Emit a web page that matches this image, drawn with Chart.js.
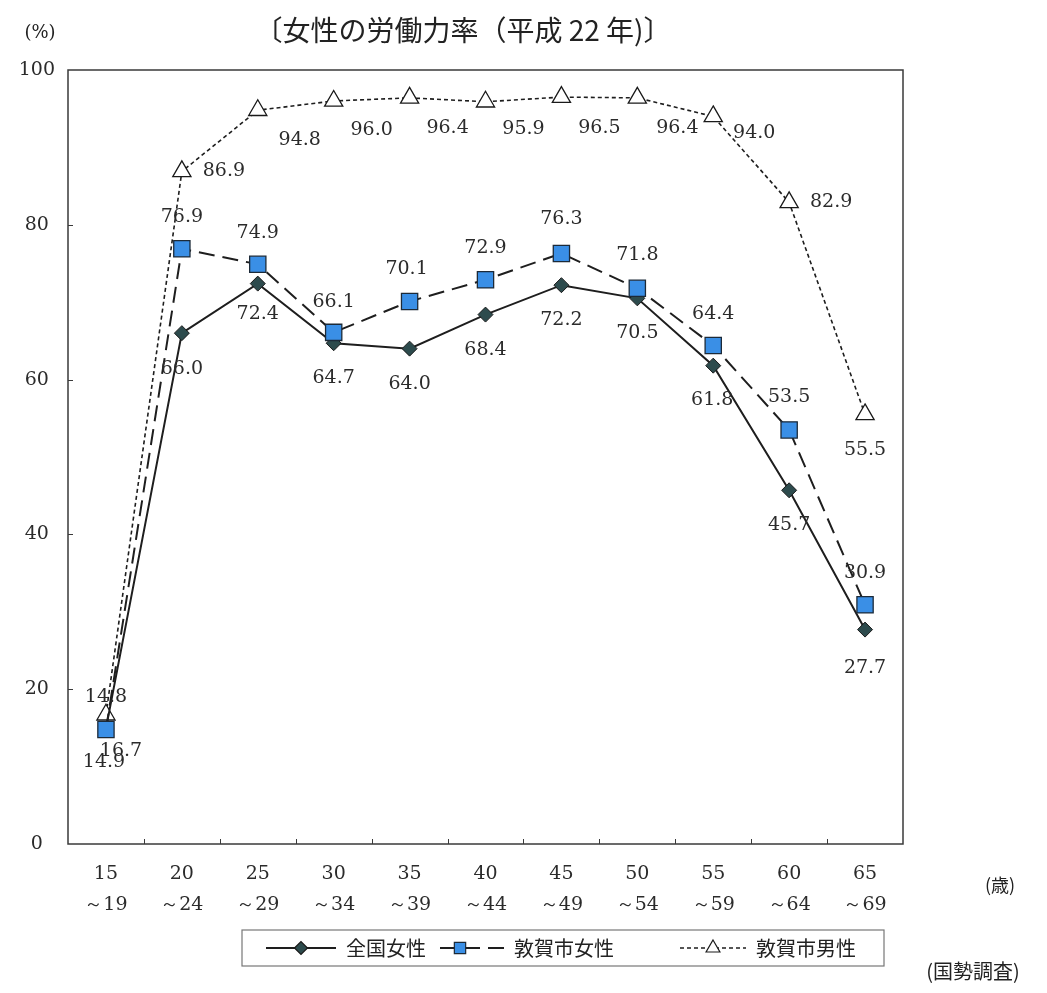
<!DOCTYPE html>
<html>
<head>
<meta charset="utf-8">
<script src="https://cdn.jsdelivr.net/npm/chart.js@4/dist/chart.umd.min.js"></script>
<style>
  html, body { margin: 0; padding: 0; background: #ffffff; }
  #wrap { width: 1047px; height: 993px; position: relative; }
</style>
</head>
<body>
<div id="wrap"><canvas id="c" width="1047" height="993"></canvas></div>
<script>
// 年齢階級（歳）
const ageGroups = [
  ['15', '～19'], ['20', '～24'], ['25', '～29'], ['30', '～34'], ['35', '～39'],
  ['40', '～44'], ['45', '～49'], ['50', '～54'], ['55', '～59'], ['60', '～64'], ['65', '～69']
];
// 労働力率（％）
const nationalWomen = [14.9, 66.0, 72.4, 64.7, 64.0, 68.4, 72.2, 70.5, 61.8, 45.7, 27.7];
const tsurugaWomen  = [14.8, 76.9, 74.9, 66.1, 70.1, 72.9, 76.3, 71.8, 64.4, 53.5, 30.9];
const tsurugaMen    = [16.7, 86.9, 94.8, 96.0, 96.4, 95.9, 96.5, 96.4, 94.0, 82.9, 55.5];
const seriesNames   = ['全国女性', '敦賀市女性', '敦賀市男性'];
const yTickValues   = [0, 20, 40, 60, 80, 100];

const titleText  = '〔女性の労働力率（平成 22 年)〕';
const yUnitText  = '(%)';
const xUnitText  = '(歳)';
const sourceText = '(国勢調査)';

// where each value label sits relative to its marker, in pixels [dx, dy]
const labelOffsets = [
  [[-2, 33], [0, 36], [0, 30], [0, 35], [0, 35], [0, 35], [0, 35], [0, 35], [-1, 34], [0, 35], [0, 38]],
  [[0, -32], [0, -32], [0, -31], [0, -30], [-3, -32], [0, -32], [0, -34], [0, -33], [0, -31], [0, -33], [0, -32]],
  [[15, 36], [42, 0], [42, 30], [38, 29], [38, 30], [38, 27], [38, 31], [40, 30], [41, 17], [42, 0], [0, 36]]
];

const NUM_FONT = '"DejaVu Serif", "Liberation Serif", serif';
const JP_FONT  = '"Noto Sans CJK JP", "Noto Sans", sans-serif';
const INK = '#2b2b2b';

function drawMarker(ctx, style, x, y, r, fill, stroke, lw) {
  ctx.save();
  ctx.beginPath();
  if (style === 'rectRot') {
    ctx.moveTo(x - r, y); ctx.lineTo(x, y - r); ctx.lineTo(x + r, y); ctx.lineTo(x, y + r);
  } else if (style === 'rect') {
    const h = r * Math.SQRT1_2;
    ctx.rect(x - h, y - h, 2 * h, 2 * h);
  } else if (style === 'triangle') {
    for (let k = 0; k < 3; k++) {
      const a = k * 2 * Math.PI / 3;
      const px = x + Math.sin(a) * r, py = y - Math.cos(a) * r;
      k ? ctx.lineTo(px, py) : ctx.moveTo(px, py);
    }
  }
  ctx.closePath();
  ctx.fillStyle = fill; ctx.fill();
  ctx.lineWidth = lw; ctx.strokeStyle = stroke; ctx.stroke();
  ctx.restore();
}

// frame, inner tick marks, value labels, headings and legend
const decorations = {
  id: 'decorations',
  beforeDatasetsDraw(chart) {
    const { ctx, chartArea: a, scales: { x, y } } = chart;
    ctx.save();
    ctx.strokeStyle = '#3a3a3a';
    ctx.lineWidth = 1.5;
    ctx.strokeRect(a.left, a.top, a.right - a.left, a.bottom - a.top);
    ctx.lineWidth = 1;
    ctx.beginPath();
    // category boundaries on the x axis
    for (let i = 1; i < ageGroups.length; i++) {
      const px = (x.getPixelForValue(i - 1) + x.getPixelForValue(i)) / 2;
      ctx.moveTo(Math.round(px) + 0.5, a.bottom);
      ctx.lineTo(Math.round(px) + 0.5, a.bottom - 5);
    }
    yTickValues.slice(1, -1).forEach(v => {
      const py = Math.round(y.getPixelForValue(v)) + 0.5;
      ctx.moveTo(a.left, py);
      ctx.lineTo(a.left + 5, py);
    });
    ctx.stroke();
    ctx.restore();
  },
  afterDatasetsDraw(chart) {
    const { ctx } = chart;
    ctx.save();
    ctx.fillStyle = INK;
    ctx.textAlign = 'center';
    ctx.textBaseline = 'middle';
    ctx.font = '19px ' + NUM_FONT;
    chart.data.datasets.forEach((ds, di) => {
      const meta = chart.getDatasetMeta(di);
      meta.data.forEach((pt, i) => {
        const [dx, dy] = labelOffsets[di][i];
        ctx.fillText(ds.data[i].toFixed(1), pt.x + dx, pt.y + dy);
      });
    });

    // headings
    ctx.font = '28px ' + JP_FONT;
    ctx.fillStyle = '#222';
    ctx.fillText(titleText, 463, 30);
    ctx.font = '18px ' + NUM_FONT;
    ctx.fillText(yUnitText, 40, 33);
    ctx.font = '18px ' + JP_FONT;
    ctx.fillText(xUnitText, 1000, 885);
    ctx.font = '20px ' + JP_FONT;
    ctx.fillText(sourceText, 973, 971);

    // legend
    const box = { left: 242, top: 930, right: 884, bottom: 966 };
    ctx.strokeStyle = '#777';
    ctx.lineWidth = 1.2;
    ctx.strokeRect(box.left, box.top, box.right - box.left, box.bottom - box.top);
    const cy = (box.top + box.bottom) / 2;
    const items = [
      { x0: 266, x1: 336, mx: 301, tx: 346 },
      { x0: 440, x1: 504, mx: 460, tx: 514 },
      { x0: 680, x1: 746, mx: 713, tx: 756 }
    ];
    const markerSize = [6.5, 8, 8];
    chart.data.datasets.forEach((ds, di) => {
      const it = items[di];
      ctx.save();
      ctx.strokeStyle = ds.borderColor;
      ctx.lineWidth = ds.borderWidth;
      ctx.setLineDash(ds.borderDash || []);
      ctx.beginPath();
      ctx.moveTo(it.x0, cy); ctx.lineTo(it.x1, cy);
      ctx.stroke();
      ctx.restore();
      drawMarker(ctx, ds.pointStyle, it.mx, cy, markerSize[di],
                 ds.pointBackgroundColor, ds.pointBorderColor, 1.2);
      ctx.fillStyle = '#222';
      ctx.textAlign = 'left';
      ctx.font = '20px ' + JP_FONT;
      ctx.fillText(ds.label, it.tx, cy);
    });
    ctx.restore();
  }
};

new Chart(document.getElementById('c'), {
  type: 'line',
  data: {
    labels: ageGroups,
    datasets: [
      {
        label: seriesNames[0], data: nationalWomen,
        borderColor: '#1e1e1e', borderWidth: 2, borderDash: [],
        pointStyle: 'rectRot', pointRadius: 7.5,
        pointBackgroundColor: '#2d4b4d', pointBorderColor: '#1a1a1a', pointBorderWidth: 1,
        order: 1
      },
      {
        label: seriesNames[1], data: tsurugaWomen,
        borderColor: '#1e1e1e', borderWidth: 2, borderDash: [16, 8],
        pointStyle: 'rect', pointRadius: 11.5,
        pointBackgroundColor: '#3a8fe6', pointBorderColor: '#1c2a38', pointBorderWidth: 1.3,
        order: 0
      },
      {
        label: seriesNames[2], data: tsurugaMen,
        borderColor: '#1e1e1e', borderWidth: 1.6, borderDash: [4, 3],
        pointStyle: 'triangle', pointRadius: 10.5,
        pointBackgroundColor: '#ffffff', pointBorderColor: '#1a1a1a', pointBorderWidth: 1.3,
        order: 2
      }
    ]
  },
  options: {
    responsive: false,
    animation: false,
    devicePixelRatio: 1,
    layout: { padding: { top: 70, right: 144, bottom: 0, left: 0 } },
    elements: { line: { tension: 0, fill: false } },
    plugins: { legend: { display: false }, tooltip: { enabled: false }, title: { display: false } },
    scales: {
      x: {
        offset: true,
        grid: { display: false },
        border: { display: false },
        ticks: {
          color: INK, padding: 7, maxRotation: 0, autoSkip: false,
          font: { family: NUM_FONT, size: 19, lineHeight: 1.6 }
        },
        afterFit(s) { s.height = 149; }
      },
      y: {
        min: 0, max: 100,
        grid: { display: false },
        border: { display: false },
        ticks: {
          stepSize: 20, color: INK, padding: 5, crossAlign: 'center',
          font: { family: NUM_FONT, size: 19 },
          callback: v => (yTickValues.includes(v) ? String(v) : '')
        },
        afterFit(s) { s.width = 68; }
      }
    }
  },
  plugins: [decorations]
});
</script>
</body>
</html>
